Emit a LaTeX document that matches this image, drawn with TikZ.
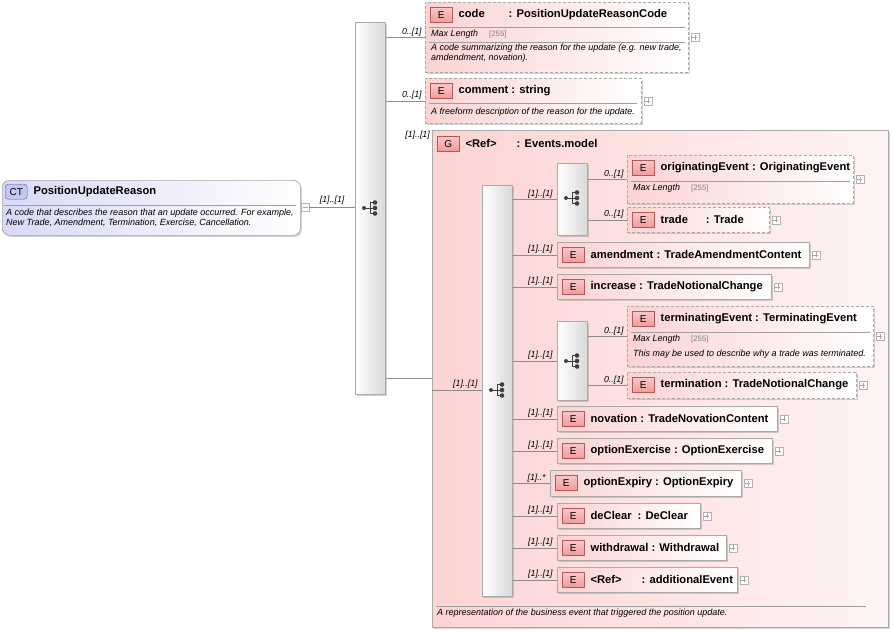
\documentclass[tikz,border=0pt]{standalone}
\usepackage{fontspec}
\setmainfont{Liberation Sans}
\usetikzlibrary{shadows,positioning}

\definecolor{elemPink}{HTML}{FBD3D3}
\definecolor{grpPink}{HTML}{FDD3D3}
\definecolor{badgeRed}{HTML}{F29A9A}
\definecolor{badgeLine}{HTML}{B25A5A}
\definecolor{boxLine}{HTML}{AAAAAA}
\definecolor{wireGray}{HTML}{8C8C8C}
\definecolor{ctBlue}{HTML}{D9D9F7}
\definecolor{ctBadge}{HTML}{C2C6F2}
\definecolor{ctLine}{HTML}{5B5B9B}

% element box: id, x, y, width, height, extra style, title
\newcommand{\elem}[7]{%
  \node[ebox,#6,minimum width=#4pt,minimum height=#5pt] (#1) at (#2,#3) {};
  \node[badge] (#1E) at ([xshift=5pt,yshift=-5pt]#1.north west) {E};
  \node[ttl] (#1N) at ([xshift=6pt]#1E.east) {#7};
  \node[expand] (#1P) at ([xshift=6pt]#1.east) {};
}
\newcommand{\maxlen}[2]{%
  \draw[sep] ([xshift=4pt,yshift=-#2pt]#1.north west) -- ([xshift=-4pt,yshift=-#2pt]#1.north east);
  \node[note] (#1M) at ([xshift=6pt,yshift=-#2pt-7pt]#1.north west) {Max Length};
  \node[lim] at ([xshift=64pt,yshift=-#2pt-7pt]#1.north west) {[255]};
}

\begin{document}
\begin{tikzpicture}[x=1pt,y=-1pt]
  \tikzset{
    ebox/.style={draw=boxLine, line width=0.7pt, left color=elemPink, right color=white,
      inner sep=0, anchor=north west,
      drop shadow={shadow xshift=1.5pt, shadow yshift=-1.5pt, opacity=0.35}},
    opt/.style={dash pattern=on 3pt off 2pt},
    badge/.style={draw=badgeLine, top color=badgeRed!55, bottom color=badgeRed,
      minimum width=22pt, minimum height=15pt, inner sep=0, anchor=north west,
      font=\fontsize{10}{10}\selectfont},
    ttl/.style={anchor=west, inner sep=0, font=\fontsize{11.2}{12}\selectfont\bfseries},
    note/.style={anchor=west, inner sep=0, align=left, font=\fontsize{9}{10}\selectfont\itshape},
    lim/.style={anchor=west, inner sep=0, text=gray, font=\fontsize{7.8}{8}\selectfont},
    card/.style={inner sep=0, font=\fontsize{8.8}{9}\selectfont\itshape},
    sep/.style={draw=gray!75, line width=0.6pt},
    seq/.style={draw=boxLine, line width=0.7pt, left color=white, right color=gray!30,
      inner sep=0, anchor=north west, minimum width=30pt,
      drop shadow={shadow xshift=1.5pt, shadow yshift=-1.5pt, opacity=0.35}},
    wire/.style={draw=wireGray, line width=0.7pt},
    expand/.style={draw=gray!60, fill=white, minimum size=8pt, inner sep=0,
      path picture={\draw[gray!70] ([xshift=1.5pt]path picture bounding box.west) -- ([xshift=-1.5pt]path picture bounding box.east)
        ([yshift=-1.5pt]path picture bounding box.north) -- ([yshift=1.5pt]path picture bounding box.south);}},
    seqmark/.pic={
      \fill[black!75] (-7,0) circle (2pt);
      \draw[black!75, line width=1pt] (-7,0) -- (-1,0) (-1,-5.5) -- (-1,5.5);
      \foreach \yy in {-5.5,0,5.5} {
        \draw[black!75, line width=1pt] (-1,\yy) -- (4,\yy);
        \fill[black!75] (4,\yy) circle (2.3pt);
      }
    }
  }

  \useasboundingbox (0,0) rectangle (893,632);

  % complex type
  \node[draw=gray!70, line width=0.7pt, rounded corners=7pt, left color=ctBlue, right color=white,
    minimum width=298pt, minimum height=55pt, inner sep=0, anchor=north west,
    drop shadow={shadow xshift=1.5pt, shadow yshift=-1.5pt, opacity=0.35}] (ct) at (2,180) {};
  \node[draw=ctLine, fill=ctBadge, rounded corners=3pt, minimum width=22pt, minimum height=15pt,
    inner sep=0, anchor=north west, font=\fontsize{10}{10}\selectfont] (ctE) at (5,184) {CT};
  \node[ttl] (ctN) at ([xshift=6pt]ctE.east) {PositionUpdateReason};
  \draw[sep] (4,205) -- (296,205);
  \node[note] (ctD) at (6,218) {A code that describes the reason that an update occurred. For example,\\New Trade, Amendment, Termination, Exercise, Cancellation.};
  \node[draw=gray!60, fill=white, minimum size=8pt, inner sep=0,
    path picture={\draw[gray!70] ([xshift=1.5pt]path picture bounding box.west) -- ([xshift=-1.5pt]path picture bounding box.east);}]
    (ctM) at (305,207) {};

  % top sequence
  \node[seq, minimum height=372pt] (seqA) at (355,22) {};
  \pic at (371,208) {seqmark};
  \draw[wire] (ctM.east) -- (seqA.west |- ctM.east)
    node[card, pos=0.5, above=2pt] {[1]..[1]};

  % code, comment
  \elem{code}{425}{2}{263}{70}{opt}{code\hspace{24pt}: PositionUpdateReasonCode}
  \maxlen{code}{25}
  \draw[sep] ([xshift=4pt,yshift=-40pt]code.north west) -- ([xshift=-4pt,yshift=-40pt]code.north east);
  \node[note] at (431,53) {A code summarizing the reason for the update (e.g. new trade,\\amdendment, novation).};

  \elem{comment}{425}{78}{216}{45}{opt}{comment : string}
  \draw[sep] (429,103) -- (637,103);
  \node[note] at (431,112) {A freeform description of the reason for the update.};

  \draw[wire] (seqA.east |- code.west) -- (code.west)
    node[card, anchor=south east, xshift=-3pt, yshift=1pt] {0..[1]};
  \draw[wire] (seqA.east |- comment.west) -- (comment.west)
    node[card, anchor=south east, xshift=-3pt, yshift=1pt] {0..[1]};

  % group
  \node[draw=boxLine, line width=0.7pt, left color=grpPink, right color=grpPink!25, inner sep=0,
    anchor=north west, minimum width=456pt, minimum height=497pt,
    drop shadow={shadow xshift=1.5pt, shadow yshift=-1.5pt, opacity=0.35}] (grp) at (432,130) {};
  \node[badge] (grpG) at (437,136) {G};
  \node[ttl] (grpN) at ([xshift=6pt]grpG.east) {<Ref>\hspace{20pt}: Events.model};
  \node[card, anchor=north east] at ([xshift=-2pt,yshift=-1pt]grp.north west) {[1]..[1]};
  \draw[sep] (436,606) -- (866,606);
  \node[note] at (437,613) {A representation of the business event that triggered the position update.};
  \coordinate (grpIn) at (432,378);
  \draw[wire] (seqA.east |- grpIn) -- (grpIn);

  % inner sequence
  \node[seq, minimum height=411pt] (seqB) at (482,185) {};
  \pic at (498,390) {seqmark};
  \coordinate (seqBIn) at (432,390);
  \draw[wire] (seqBIn) -- (seqB.west |- seqBIn)
    node[card, anchor=south east, xshift=-4pt, yshift=1pt] {[1]..[1]};

  % first choice
  \node[seq, minimum height=72pt] (chA) at (557,163) {};
  \pic at (573,198) {seqmark};
  \elem{orig}{627}{155}{226}{48}{opt}{originatingEvent : OriginatingEvent}
  \maxlen{orig}{26}
  \elem{trade}{627}{207}{142}{25}{opt}{trade\hspace{18pt}: Trade}
  \draw[wire] (chA.east |- orig.west) -- (orig.west)
    node[card, anchor=south east, xshift=-3pt, yshift=1pt] {0..[1]};
  \draw[wire] (chA.east |- trade.west) -- (trade.west)
    node[card, anchor=south east, xshift=-3pt, yshift=1pt] {0..[1]};

  % second choice
  \node[seq, minimum height=79pt] (chB) at (557,321) {};
  \pic at (573,361) {seqmark};
  \elem{term}{627}{306}{246}{60}{opt}{terminatingEvent : TerminatingEvent}
  \maxlen{term}{26}
  \node[note] at (633,354) {This may be used to describe why a trade was terminated.};
  \elem{termi}{627}{372}{229}{26}{opt}{termination : TradeNotionalChange}
  \draw[wire] (chB.east |- term.west) -- (term.west)
    node[card, anchor=south east, xshift=-3pt, yshift=1pt] {0..[1]};
  \draw[wire] (chB.east |- termi.west) -- (termi.west)
    node[card, anchor=south east, xshift=-3pt, yshift=1pt] {0..[1]};

  % plain elements
  \elem{amend}{557}{242}{252}{25}{}{amendment : TradeAmendmentContent}
  \elem{incr}{557}{274}{214}{25}{}{increase : TradeNotionalChange}
  \elem{nova}{557}{406}{220}{25}{}{novation : TradeNovationContent}
  \elem{exer}{557}{438}{215}{25}{}{optionExercise : OptionExercise}
  \elem{expi}{550}{470}{191}{26}{}{optionExpiry : OptionExpiry}
  \elem{decl}{557}{503}{143}{25}{}{deClear\hspace{6pt}: DeClear}
  \elem{withd}{557}{535}{169}{25}{}{withdrawal : Withdrawal}
  \elem{addev}{557}{567}{180}{25}{}{<Ref>\hspace{20pt}: additionalEvent}

  \foreach \kid in {chA,amend,incr,chB,nova,exer,decl,withd,addev} {
    \draw[wire] (seqB.east |- \kid.west) -- (\kid.west)
      node[card, anchor=south east, xshift=-4pt, yshift=1pt] {[1]..[1]};
  }
  \draw[wire] (seqB.east |- expi.west) -- (expi.west)
    node[card, anchor=south east, xshift=-4pt, yshift=1pt] {[1]..*};
\end{tikzpicture}
\end{document}
